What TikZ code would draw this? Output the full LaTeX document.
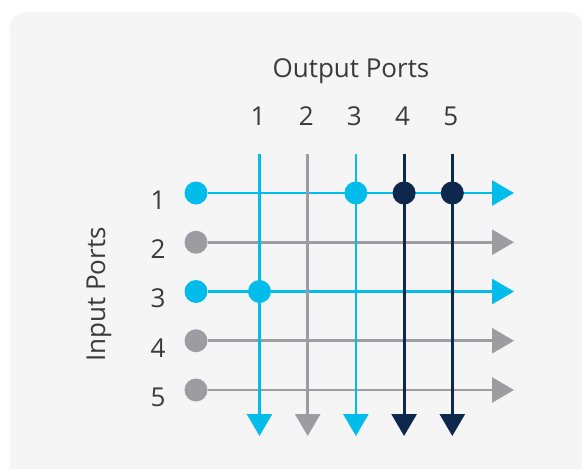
\documentclass[tikz,border=0pt]{standalone}
\usepackage{fontspec}
\setmainfont{Open Sans}
\usepackage{tikz}
\usetikzlibrary{arrows.meta,positioning}
\definecolor{cyanport}{HTML}{00BCEB}
\definecolor{grayport}{HTML}{9D9DA1}
\definecolor{navyport}{HTML}{0D274D}
\definecolor{panel}{HTML}{F5F5F5}
\definecolor{labeltext}{HTML}{3A3A3A}

\begin{document}
\begin{tikzpicture}[x=1pt,y=-1pt,
    port/.style={circle,inner sep=0pt,minimum size=23pt,fill=#1},
    wire/.style={line width=2.8pt,draw=#1,-{Triangle[length=22pt,width=25pt]}},
    lbl/.style={font=\fontsize{26}{30}\selectfont,text=labeltext,inner sep=0pt}]
    \useasboundingbox (0,0) rectangle (582,469);
    \fill[panel,rounded corners=16pt] (10,12) rectangle (584,482);
    % input rows
    \foreach \i/\c in {1/cyanport,2/grayport,3/cyanport,4/grayport,5/grayport}
    {
      \node[port=\c] (in\i) at (196,{193+49.25*(\i-1)}) {};
      \coordinate (rowend\i) at (514,{193+49.25*(\i-1)});
      \draw[wire=\c] (in\i) -- (rowend\i);
      \node[lbl] (rowlbl\i) at (158,{200+49.25*(\i-1)}) {\i};
    }
    % output columns
    \foreach \j/\c in {1/cyanport,2/grayport,3/cyanport,4/navyport,5/navyport}
    {
      \coordinate (out\j) at ({259.5+48.2*(\j-1)},154);
      \coordinate (colend\j) at ({259.5+48.2*(\j-1)},436);
      \draw[wire=\c] (out\j) -- (colend\j);
      \node[lbl] (collbl\j) at ({258+48.2*(\j-1)},116.5) {\j};
    }
    % crosspoints
    \node[port=cyanport] (x13) at (out3 |- in1) {};
    \node[port=navyport] (x14) at (out4 |- in1) {};
    \node[port=navyport] (x15) at (out5 |- in1) {};
    \node[port=cyanport] (x31) at (out1 |- in3) {};
    \node[lbl] (outtitle) at (351,71) {Output Ports};
    \node[lbl,rotate=90] (intitle) at (99,294.5) {Input Ports};
\end{tikzpicture}
\end{document}
